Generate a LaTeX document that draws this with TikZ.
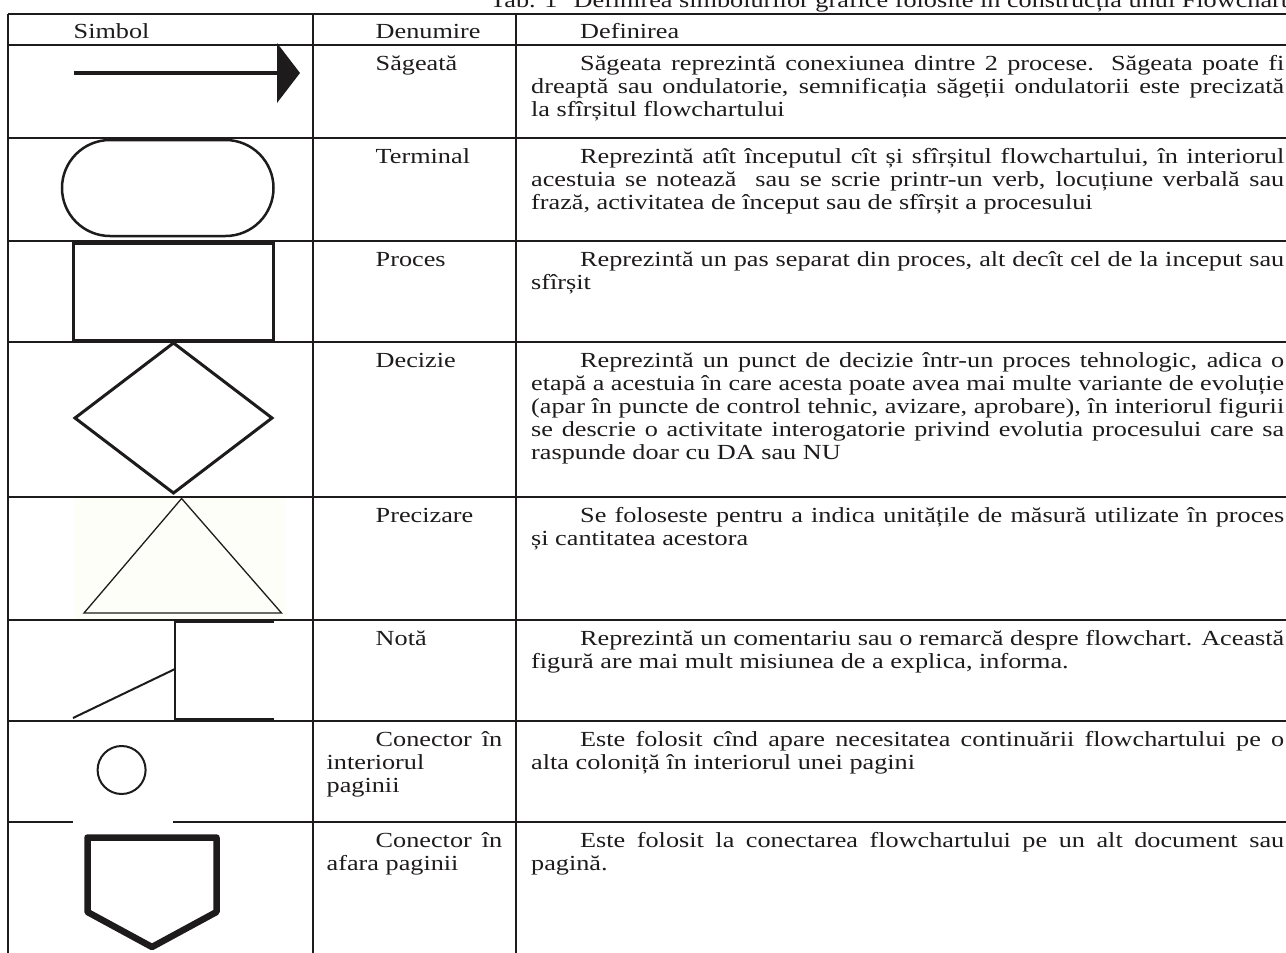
\documentclass[tikz,border=0pt]{standalone}
\usepackage{fontspec}
\usepackage{graphicx}
\setmainfont{Liberation Serif}[FakeStretch=1.22]
\definecolor{ink}{RGB}{30,27,28}
\definecolor{cream}{RGB}{254,254,248}

% One justified line of a paragraph: spread to the given width,
% or squeezed horizontally when the words are too long for it.
\newcommand{\jline}[2]{%
  \setbox0=\hbox{#2}%
  \ifdim\wd0>#1\relax
    \resizebox{#1}{\height}{#2}%
  \else
    \makebox[#1][s]{#2}%
  \fi}

\begin{document}
\begin{tikzpicture}[x=1pt,y=-1pt,
  font=\fontsize{21.5}{23}\selectfont,
  every node/.style={inner sep=0pt,text=ink},
  txt/.style={anchor=base west},
  rule/.style={draw=ink,line width=2pt},
  symb/.style={draw=ink,line width=#1},
  symb/.default=2.5pt]
\useasboundingbox (0,0) rectangle (1286,953);
\fill[white] (0,0) rectangle (1286,953);

% ---- table rules ----
\foreach \y in {14,138,241,342,497,620,721}
  \draw[rule] (8,\y) -- (1290,\y);
\draw[rule] (8,45) -- (73.5,45);
\draw[draw=ink,line width=1.2pt] (73.5,45) -- (299,45);
\draw[rule] (299,45) -- (1290,45);
\draw[rule] (8,822) -- (73,822);
\draw[rule] (173,822) -- (1290,822);
\foreach \x in {8,313,516}
  \draw[rule] (\x,14) -- (\x,960);

% ---- symbols ----
% arrow
\fill[ink] (73.5,71) rectangle (278,75);
\fill[ink] (277,43) -- (300,73) -- (277,103) -- cycle;
% terminal
\draw[symb, rounded corners=48pt] (62,140) rectangle (273.5,236);
% process
\draw[symb=3pt] (73.5,243) rectangle (273,340);
% decision
\draw[symb=3pt] (75,418) -- (173.5,343) -- (272,418) -- (173.5,493) -- cycle;
% annotation triangle on its tinted background
\fill[cream] (73.5,498) rectangle (286,619);
\draw[symb=1.3pt] (84,613) -- (181.6,498.5) -- (281.5,613) -- cycle;
% note bracket
\draw[symb] (273.5,622) -- (175,622) -- (175,719) -- (273.5,719);
\draw[symb=2pt] (73,718) -- (175,669);
% on-page connector
\draw[symb=2pt] (121.6,770) circle[radius=24pt];
% off-page connector
\draw[symb=6.5pt, line join=round] (87.5,837.5) -- (216.5,837.5) -- (216.5,912)
  -- (152,947) -- (87.5,912) -- cycle;

% ---- caption ----
\node[txt] (cap) at (490,8) {Tab. 1\hspace{16pt}Definirea simbolurilor grafice folosite în construcția unui Flowchart};

% ---- header ----
\node[txt] (h1) at (73.5,38) {Simbol};
\node[txt] (h2) at (375.5,38) {Denumire};
\node[txt] (h3) at (580,38) {Definirea};

% ---- names ----
\node[txt] (n1) at (375.5,70) {Săgeată};
\node[txt] (n2) at (375.5,163) {Terminal};
\node[txt] (n3) at (375.5,266) {Proces};
\node[txt] (n4) at (375.5,367) {Decizie};
\node[txt] (n5) at (375.5,522) {Precizare};
\node[txt] (n6) at (375.5,645) {Notă};
\node[txt] (n7a) at (375.5,746) {\jline{126.5pt}{Conector în}};
\node[txt] (n7b) at (326.5,769) {interiorul};
\node[txt] (n7c) at (326.5,792) {paginii};
\node[txt] (n8a) at (375.5,847) {\jline{126.5pt}{Conector în}};
\node[txt] (n8b) at (326.5,870) {afara paginii};

% ---- definitions ----
\node[txt] (d1a) at (580,70) {\jline{704pt}{Săgeata reprezintă conexiunea dintre 2 procese. Săgeata poate fi}};
\node[txt] (d1b) at (531,93) {\jline{753pt}{dreaptă sau ondulatorie, semnificația săgeții ondulatorii este precizată}};
\node[txt] (d1c) at (531,116) {la sfîrșitul flowchartului};

\node[txt] (d2a) at (580,163) {\jline{704pt}{Reprezintă atît începutul cît și sfîrșitul flowchartului, în interiorul}};
\node[txt] (d2b) at (531,186) {\jline{753pt}{acestuia se notează~ sau se scrie printr-un verb, locuțiune verbală sau}};
\node[txt] (d2c) at (531,209) {frază, activitatea de început sau de sfîrșit a procesului};

\node[txt] (d3a) at (580,266) {\jline{704pt}{Reprezintă un pas separat din proces, alt decît cel de la inceput sau}};
\node[txt] (d3b) at (531,289) {sfîrșit};

\node[txt] (d4a) at (580,367) {\jline{704pt}{Reprezintă un punct de decizie într-un proces tehnologic, adica o}};
\node[txt] (d4b) at (531,390) {\jline{753pt}{etapă a acestuia în care acesta poate avea mai multe variante de evoluție}};
\node[txt] (d4c) at (531,413) {\jline{753pt}{(apar în puncte de control tehnic, avizare, aprobare), în interiorul figurii}};
\node[txt] (d4d) at (531,436) {\jline{753pt}{se descrie o activitate interogatorie privind evolutia procesului care sa}};
\node[txt] (d4e) at (531,459) {raspunde doar cu DA sau NU};

\node[txt] (d5a) at (580,522) {\jline{704pt}{Se foloseste pentru a indica unitățile de măsură utilizate în proces}};
\node[txt] (d5b) at (531,545) {și cantitatea acestora};

\node[txt] (d6a) at (580,645) {\jline{704pt}{Reprezintă un comentariu sau o remarcă despre flowchart. Această}};
\node[txt] (d6b) at (531,668) {figură are mai mult misiunea de a explica, informa.};

\node[txt] (d7a) at (580,746) {\jline{704pt}{Este folosit cînd apare necesitatea continuării flowchartului pe o}};
\node[txt] (d7b) at (531,769) {alta coloniță în interiorul unei pagini};

\node[txt] (d8a) at (580,847) {\jline{704pt}{Este folosit la conectarea flowchartului pe un alt document sau}};
\node[txt] (d8b) at (531,870) {pagină.};
\end{tikzpicture}
\end{document}
